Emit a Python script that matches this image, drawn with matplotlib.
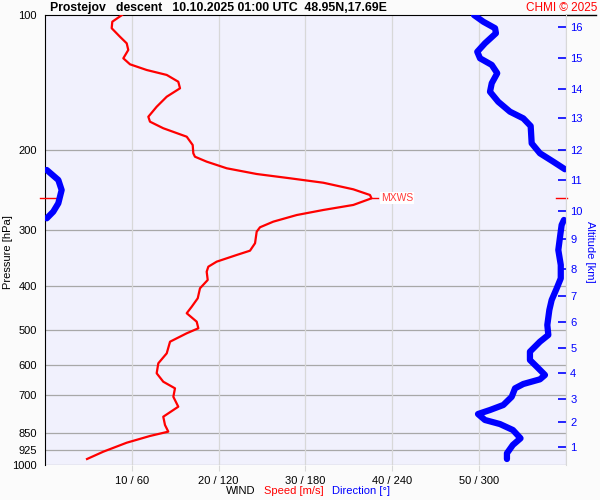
import numpy as np
import matplotlib
matplotlib.use("Agg")
import matplotlib.pyplot as plt

plt.rcParams['font.family'] = ['Liberation Sans', 'DejaVu Sans']

# wind speed profile [m/s] vs pressure [hPa]
speed_p = [100.0, 103.5, 107.0, 111.8, 115.6, 119.6, 124.8, 128.7, 132.5, 135.9,
           140.7, 145.5, 151.9, 159.9, 168.3, 172.6, 178.5, 186.4, 194.5, 202.9,
           206.5, 211.8, 219.1, 225.6, 230.6, 235.9, 244.0, 251.2, 255.5, 264.3,
           271.2, 278.3, 287.9, 296.3, 303.0, 321.5, 334.0, 341.4, 353.3, 362.5,
           371.9, 388.0, 404.9, 426.1, 444.8, 460.0, 480.3, 496.8, 509.7, 532.1,
           564.7, 594.3, 625.4, 653.0, 675.5, 705.4, 742.1, 781.1, 815.0, 843.1,
           862.0, 892.2, 934.2, 969.8]
speed = [8.87, 7.75, 7.68, 8.64, 9.41, 9.59, 9.02, 9.79, 11.71, 14.02,
         15.35, 15.55, 14.02, 12.86, 11.90, 12.09, 13.62, 16.32, 17.01, 17.08,
         17.27, 18.62, 20.93, 24.38, 28.22, 32.05, 35.51, 37.43, 37.6, 35.51,
         32.05, 28.99, 26.29, 24.76, 24.38, 24.19, 23.61, 22.08, 19.77, 18.81,
         18.62, 18.74, 17.85, 17.59, 16.90, 16.32, 17.47, 17.66, 16.32, 14.40,
         14.02, 13.05, 12.86, 13.62, 14.97, 14.78, 15.35, 13.62, 13.82, 14.20,
         12.09, 9.41, 6.71, 4.84]

# wind direction profile [deg] vs pressure [hPa]
dir_p = [100.0, 103.5, 107.0, 109.8, 115.6, 120.7, 124.8, 129.1, 134.7, 141.8,
         148.1, 155.9, 164.0, 169.7, 176.5, 192.8, 202.9, 211.8, 220.2, 221.0,
         232.6, 244.9, 262.1, 273.6, 283.0, 285.4, 292.8, 310.9, 332.8, 359.3,
         384.8, 404.9, 430.0, 452.5, 488.5, 514.1, 532.1, 560.0, 584.4, 604.7,
         631.0, 645.1, 660.7, 675.5, 705.4, 735.6, 754.7, 770.4, 794.3, 811.0,
         836.0, 872.3, 902.5, 941.9, 969.8]
direction = [296.4, 302.9, 311.0, 311.6, 304.0, 298.7, 300.6, 308.7, 312.5, 308.7,
             307.5, 313.2, 321.3, 330.5, 335.6, 336.3, 342.0, 351.2, 359.3, 1.2,
             9.2, 11.5, 9.2, 5.7, 1.2, 358.6, 357.0, 355.9, 354.7, 356.4,
             356.4, 353.6, 350.1, 348.5, 347.1, 347.8, 342.0, 335.1, 335.1, 339.8,
             345.5, 342.0, 330.5, 324.8, 322.5, 316.7, 307.5, 299.2, 304.0, 314.4,
             323.3, 328.6, 323.3, 319.2, 319.2]

p_ticks = [100, 200, 300, 400, 500, 600, 700, 850, 925, 1000]
speed_ticks = [10, 20, 30, 40, 50]
speed_labels = ['10 / 60', '20 / 120', '30 / 180', '40 / 240', '50 / 300']

# altitude ticks [km] and the pressure level where they sit
alt_km = list(range(1, 17))
alt_p = [910.8, 804.3, 713.4, 625.4, 550.4, 481.2, 421.2, 367.4,
         315.1, 272.2, 232.6, 199.5, 169.7, 146.3, 124.8, 106.3]

mxws_speed = 37.6
mxws_p = 255.5

red = '#ff0000'
blue = '#0000ff'

fig = plt.figure(figsize=(6, 5), dpi=100, facecolor='#fbfbfb')
ax = fig.add_axes([0.075, 0.07, 0.8683, 0.9])
ax.set_facecolor('#f1f1fd')
ax.set_yscale('log')
ax.set_ylim(1000, 100)
ax.set_xlim(0, 60)

for p in p_ticks[1:]:
    ax.axhline(p, color='#a8a8a8', lw=0.9, zorder=1)
for s in speed_ticks + [60]:
    ax.axvline(s, color='#d8d8d8', lw=0.9, zorder=1)

ax.set_yticks(p_ticks)
ax.set_yticklabels([str(p) for p in p_ticks])
ax.yaxis.set_minor_locator(plt.NullLocator())
ax.tick_params(axis='y', length=0, pad=6, labelsize=8)
ax.set_xticks(speed_ticks)
ax.set_xticklabels(speed_labels)
ax.tick_params(axis='x', length=4, color='#d8d8d8', pad=4, labelsize=8)

for side in ['right', 'bottom']:
    ax.spines[side].set_visible(False)
ax.spines['left'].set_color('black')
ax.spines['top'].set_color('black')

# speed
ax.plot(speed, speed_p, color=red, lw=1.6, zorder=4)
ax.plot([mxws_speed, mxws_speed + 0.8], [mxws_p, mxws_p], color=red, lw=1, zorder=4)
ax.plot([-0.6, 1.4], [mxws_p, mxws_p], color=red, lw=1, zorder=5, clip_on=False)
ax.plot([58.8, 60.1], [mxws_p, mxws_p], color=red, lw=1, zorder=5, clip_on=False)
ax.text(mxws_speed + 1.1, mxws_p, 'MXWS', color='#ff3a3a', fontsize=7.5,
        va='center', ha='left', zorder=5,
        bbox=dict(facecolor='white', edgecolor='none', pad=0.6))

# direction on its own 0-360 scale, broken where it wraps
ax2 = ax.twiny()
ax2.set_xlim(0, 360)
ax2.set_xticks([])
for sp in ax2.spines.values():
    sp.set_visible(False)
d = np.array(direction)
pp = np.array(dir_p)
breaks = np.where(np.abs(np.diff(d)) > 180)[0] + 1
for seg_d, seg_p in zip(np.split(d, breaks), np.split(pp, breaks)):
    ax2.plot(seg_d, seg_p, color=blue, lw=4.5, solid_capstyle='round',
             solid_joinstyle='round', zorder=3)

# altitude axis
ax3 = ax.twinx()
ax3.set_yscale('log')
ax3.set_ylim(1000, 100)
ax3.set_yticks(alt_p)
ax3.set_yticklabels([str(a) for a in alt_km])
ax3.yaxis.set_minor_locator(plt.NullLocator())
ax3.tick_params(axis='y', direction='in', length=6, width=1.2, color=blue,
                labelcolor=blue, labelsize=8, pad=3)
for side in ['left', 'top', 'bottom']:
    ax3.spines[side].set_visible(False)
ax3.spines['right'].set_color('#d8d8d8')

# top line runs beyond the plot
ax.plot([60, 63.4], [100, 100], color='black', lw=1, clip_on=False, zorder=5)

fig.text(0.014, 0.496, 'Pressure [hPa]', fontsize=8, rotation=90, va='center', ha='center')
fig.text(0.983, 0.496, 'Altitude [km]', color=blue, fontsize=8, rotation=270,
         va='center', ha='center')

fig.text(0.083, 0.984, 'Prostejov   descent   10.10.2025 01:00 UTC  48.95N,17.69E',
         fontsize=8.8, fontweight='bold', va='center', ha='left')
fig.text(0.995, 0.984, 'CHMI © 2025', color=red, fontsize=8.5, va='center', ha='right')

fig.text(0.376, 0.018, 'WIND', fontsize=8, va='center', ha='left')
fig.text(0.44, 0.018, 'Speed [m/s]', color=red, fontsize=8, va='center', ha='left')
fig.text(0.553, 0.018, 'Direction [°]', color=blue, fontsize=8, va='center', ha='left')

fig.savefig('out.png', dpi=100, facecolor=fig.get_facecolor())
